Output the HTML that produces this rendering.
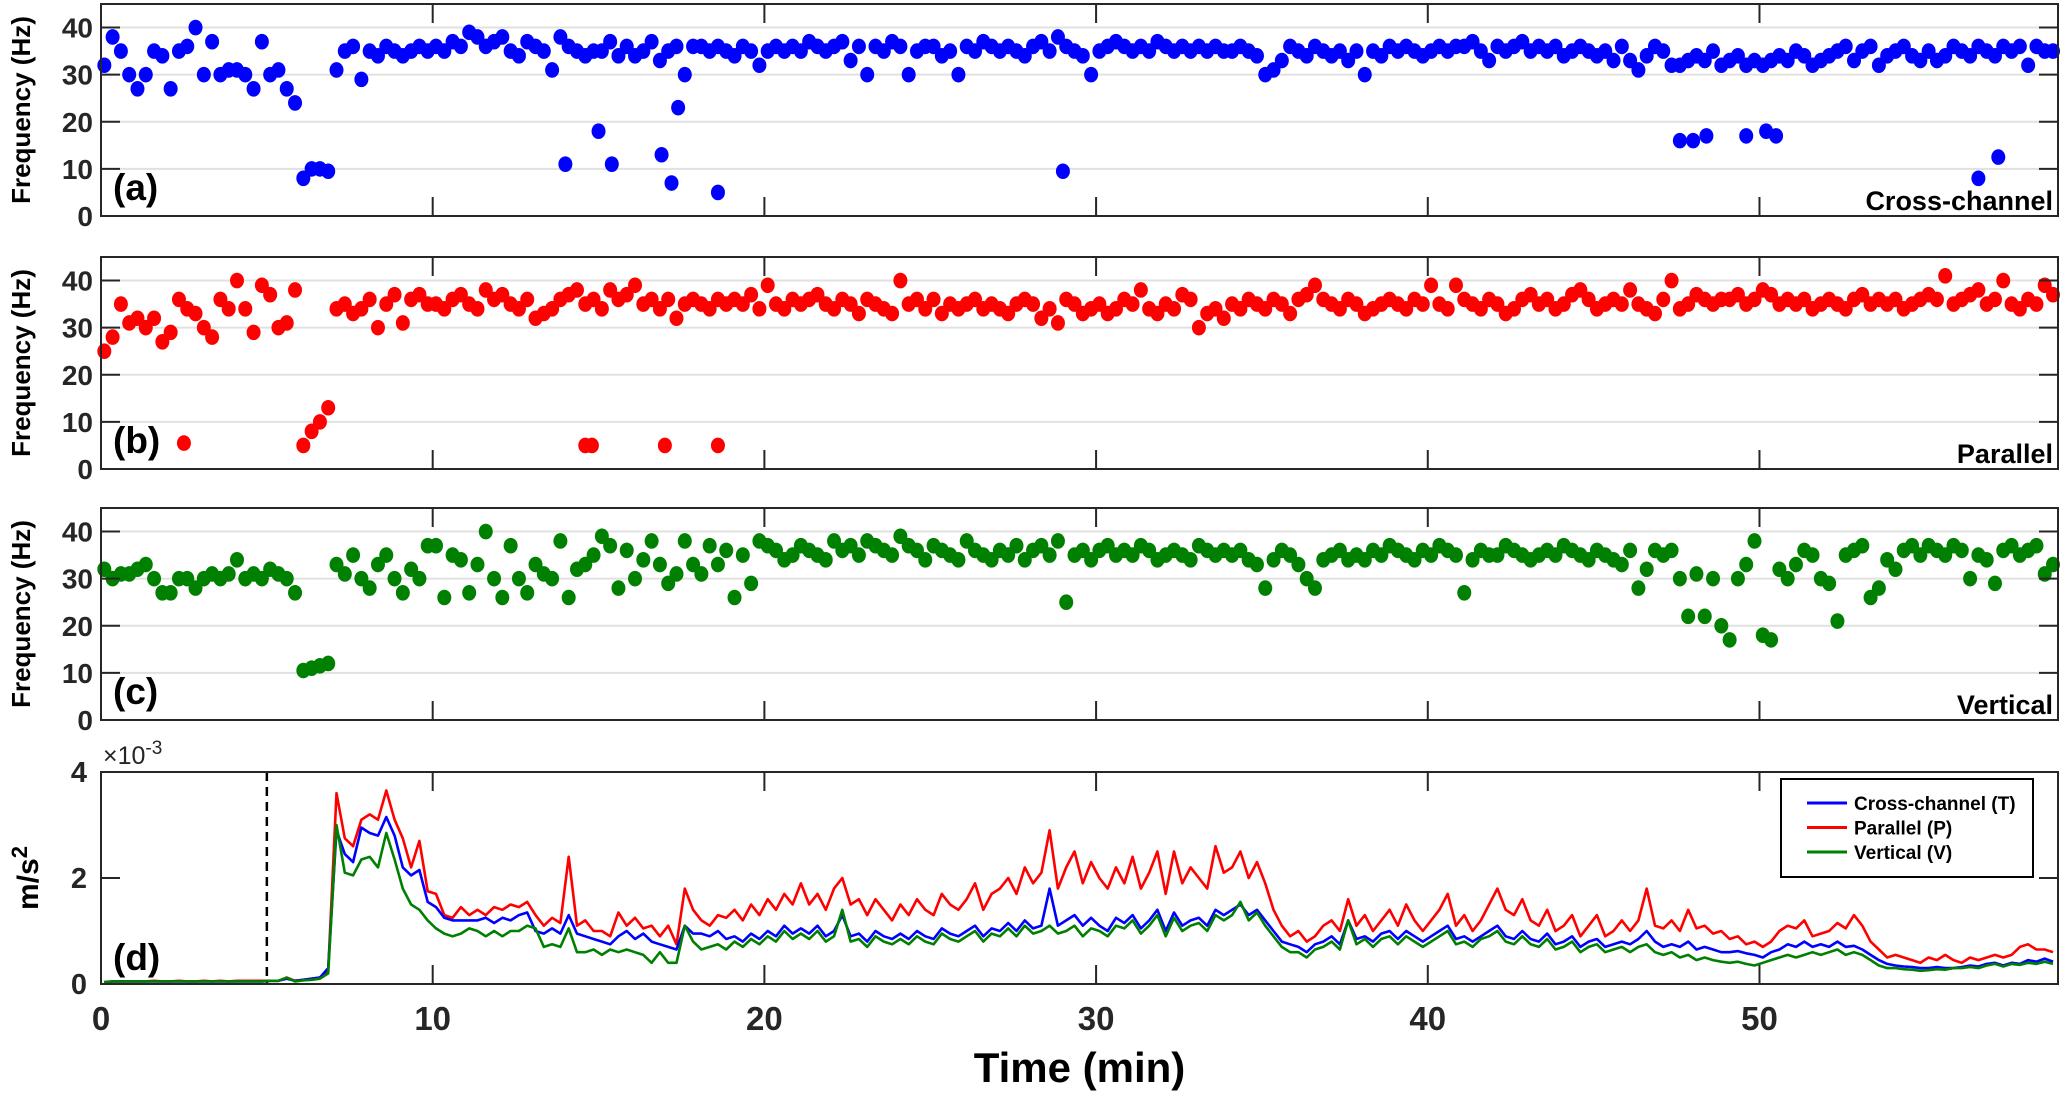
<!DOCTYPE html>
<html><head><meta charset="utf-8"><style>
html,body{margin:0;padding:0;background:#fff;}
svg{display:block;font-family:"Liberation Sans",Arial,sans-serif;font-weight:bold;}
</style></head><body>
<svg id="fig" width="2068" height="1097" viewBox="0 0 2068 1097" xmlns="http://www.w3.org/2000/svg"></svg>
<script>
// ---------- data ----------
const STEP = 0.25; // minutes between samples
const freqA = [32,38,35,30, 27,30,35,34, 27,35,36,40, 30,37,30,31, 31,30,27,37, 30,31,27,24, 8,10,10,9.5,
31,35,36,29, 35,34,36,35, 34,35,36,35, 36,35,37,36, 39,38,36,37, 38,35,34,37, 36,35,31,38, 36,35,34,35,
35,37,34,36, 34,35,37,33, 35,36,30,36, 36,35,36,35, 34,36,35,32, 35,36,35,36, 35,37,36,35, 36,37,33,36,
30,36,35,37, 36,30,35,36, 36,34,35,30, 36,35,37,36, 35,36,35,34, 36,37,35,38, 36,35,34,30, 35,36,37,36,
35,36,35,37, 36,35,36,35, 36,35,36,35, 35,36,35,34, 30,31,33,36, 35,34,36,35, 34,35,33,35, 30,35,34,36,
35,36,35,34, 35,36,35,36, 36,37,35,33, 36,35,36,37, 35,36,35,36, 34,35,36,35, 34,35,33,36, 33,31,34,36,
35,32,32,33, 34,33,35,32, 33,34,32,33, 32,33,34,33, 35,34,32,33, 34,35,36,33, 35,36,32,34, 35,36,34,33,
35,33,34,36, 35,34,36,35, 34,36,35,36, 32,36,35,35];
const outA_t = [14,15,15.4,16.9,17.2,17.4,18.6,29,47.6,48,48.4,49.6,50.2,50.5,56.6,57.2];
const outA_v = [11,18,11,13,7,23,5,9.5,16,16,17,17,18,17,8,12.5];

const freqB = [25,28,35,31, 32,30,32,27, 29,36,34,33, 30,28,36,34, 40,34,29,39, 37,30,31,38, 5,8,10,13,
34,35,33,34, 36,30,35,37, 31,36,37,35, 35,34,36,37, 35,34,38,36, 37,35,34,36, 32,33,34,36, 37,38,35,36,
34,38,36,37, 39,35,36,34, 36,32,35,36, 35,34,36,35, 36,35,37,34, 39,35,34,36, 35,36,37,35, 34,36,35,33,
36,35,34,33, 40,35,36,34, 36,33,35,34, 35,36,34,35, 34,33,35,36, 35,32,34,31, 36,35,33,34, 35,33,34,36,
35,38,34,33, 35,34,37,36, 30,33,34,32, 35,34,36,35, 34,36,35,33, 36,37,39,36, 35,34,36,35, 33,34,35,36,
35,34,36,35, 39,35,34,39, 36,35,34,36, 35,33,34,36, 37,35,36,34, 35,37,38,36, 34,35,36,35, 38,35,34,33,
36,40,34,35, 37,36,35,36, 36,37,35,36, 38,37,35,36, 35,36,34,35, 36,35,34,36, 37,35,36,35, 36,34,35,36,
37,36,41,35, 36,37,38,35, 36,40,35,34, 36,35,39,37];
const outB_t = [2.5,14.6,14.8,17,18.6];
const outB_v = [5.5,5,5,5,5];

const freqC = [32,30,31,31, 32,33,30,27, 27,30,30,28, 30,31,30,31, 34,30,31,30, 32,31,30,27, 10.5,11,11.5,12,
33,31,35,30, 28,33,35,30, 27,32,30,37, 37,26,35,34, 27,33,40,30, 26,37,30,27, 33,31,30,38, 26,32,33,35,
39,37,28,36, 30,34,38,33, 29,31,38,33, 31,37,33,36, 26,35,29,38, 37,36,34,35, 37,36,35,34, 38,36,37,35,
38,37,36,35, 39,37,36,34, 37,36,35,34, 38,36,35,34, 36,35,37,34, 36,37,35,38, 25,35,36,34, 36,37,35,36,
35,37,36,34, 35,36,35,34, 37,36,35,36, 35,36,34,33, 28,34,36,35, 33,30,28,34, 35,36,34,35, 34,36,35,37,
36,35,34,36, 35,37,36,35, 27,34,36,35, 35,37,36,35, 34,35,36,35, 37,36,35,34, 36,35,34,33, 36,28,32,36,
35,36,30,22, 31,22,30,20, 17,30,33,38, 18,17,32,30, 33,36,35,30, 29,21,35,36, 37,26,28,34, 32,36,37,35,
37,36,35,37, 36,30,35,34, 29,36,37,35, 36,37,31,33];

const accP = [.03,.05,.05,.05, .05,.05,.06,.05, .05,.06,.05,.05, .06,.05,.06,.05, .06,.06,.06,.06, .06,.06,.12,.06, .08,.1,.12,.25,
3.6,2.75,2.6,3.1, 3.2,3.1,3.65,3.1, 2.75,2.2,2.7,1.75, 1.7,1.3,1.25,1.45, 1.3,1.4,1.3,1.45, 1.4,1.5,1.45,1.55, 1.3,1.1,1.25,1.15, 2.4,1.1,1.2,1.0,
1.0,0.9,1.35,1.1, 1.25,1.05,1.1,0.9, 1.1,0.75,1.8,1.4, 1.2,1.1,1.3,1.25, 1.4,1.2,1.5,1.3, 1.6,1.4,1.7,1.5, 1.9,1.5,1.7,1.4, 1.8,2.0,1.5,1.6,
1.3,1.6,1.4,1.2, 1.5,1.3,1.6,1.4, 1.3,1.7,1.5,1.4, 1.6,1.9,1.4,1.7, 1.8,2.0,1.7,2.2, 1.9,2.1,2.9,1.8, 2.2,2.5,1.9,2.3, 2.0,1.8,2.2,1.9,
2.4,1.8,2.1,2.5, 1.7,2.5,1.9,2.2, 2.0,1.8,2.6,2.1, 2.2,2.5,2.0,2.3, 1.9,1.4,1.1,0.9, 1.0,0.8,0.9,1.1, 1.2,1.0,1.6,1.1, 1.3,1.0,1.2,1.4,
1.1,1.5,1.2,1.0, 1.2,1.4,1.7,1.1, 1.3,1.0,1.2,1.5, 1.8,1.4,1.3,1.6, 1.2,1.1,1.4,1.0, 1.1,1.3,0.9,1.1, 1.3,0.9,1.0,1.2, 1.0,1.2,1.8,1.1,
1.05,1.2,1.0,1.4, 1.05,1.1,0.95,1.0, 0.85,0.9,0.75,0.8, 0.7,0.8,1.0,1.1, 1.05,1.2,0.9,0.95, 1.0,1.15,1.05,1.3, 1.1,0.8,0.65,0.5, 0.55,0.5,0.45,0.4,
0.5,0.45,0.55,0.45, 0.4,0.5,0.45,0.5, 0.55,0.5,0.55,0.7, 0.75,0.65,0.65,0.6];
const accT = [.03,.05,.05,.05, .05,.05,.05,.05, .05,.05,.05,.05, .05,.05,.05,.05, .05,.05,.05,.05, .06,.06,.1,.06, .08,.1,.12,.3,
2.9,2.45,2.3,2.95, 2.85,2.8,3.15,2.8, 2.2,2.05,2.15,1.55, 1.45,1.25,1.2,1.2, 1.2,1.2,1.25,1.15, 1.25,1.2,1.3,1.35, 1.0,0.95,1.05,0.95, 1.3,0.95,0.9,0.85,
0.8,0.75,0.9,1.0, 0.85,0.95,0.8,0.75, 0.7,0.65,1.1,0.95, 0.95,0.9,1.0,0.85, 0.9,0.8,0.95,0.85, 1.0,0.9,1.1,0.95, 1.05,0.95,1.1,0.9, 1.0,1.3,0.9,0.95,
0.8,1.0,0.9,0.85, 0.95,0.85,1.0,0.9, 0.85,1.05,0.95,0.9, 1.0,1.1,0.9,1.05, 1.0,1.15,1.0,1.2, 1.05,1.1,1.8,1.1, 1.2,1.3,1.1,1.25, 1.1,1.0,1.25,1.15,
1.3,1.05,1.2,1.4, 1.0,1.35,1.1,1.2, 1.25,1.1,1.4,1.3, 1.4,1.5,1.3,1.4, 1.2,1.0,0.8,0.75, 0.7,0.6,0.75,0.8, 0.9,0.75,1.2,0.85, 0.9,0.8,0.95,1.0,
0.85,1.0,0.9,0.8, 0.9,1.0,1.1,0.85, 0.9,0.8,0.9,1.0, 1.1,0.9,0.85,1.0, 0.85,0.8,0.95,0.75, 0.8,0.9,0.7,0.8, 0.85,0.7,0.75,0.8, 0.75,0.85,1.0,0.8,
0.7,0.75,0.7,0.8, 0.65,0.7,0.65,0.6, 0.6,0.62,0.58,0.55, 0.5,0.6,0.65,0.75, 0.7,0.8,0.7,0.75, 0.7,0.8,0.7,0.72, 0.65,0.55,0.45,0.38, 0.35,0.33,0.32,0.3,
0.3,0.32,0.3,0.3, 0.32,0.35,0.33,0.38, 0.4,0.35,0.4,0.38, 0.45,0.42,0.48,0.42];
const accV = [.04,.05,.05,.05, .05,.05,.05,.05, .05,.05,.05,.05, .05,.05,.05,.05, .05,.05,.05,.05, .06,.06,.12,.05, .07,.08,.1,.2,
3.0,2.1,2.05,2.35, 2.4,2.2,2.85,2.35, 1.8,1.5,1.4,1.2, 1.05,0.95,0.9,0.95, 1.05,1.0,0.9,1.0, 0.9,1.0,1.0,1.1, 1.05,0.7,0.75,0.7, 1.05,0.6,0.6,0.65,
0.55,0.65,0.6,0.65, 0.6,0.55,0.4,0.6, 0.4,0.4,1.1,0.8, 0.65,0.7,0.75,0.65, 0.8,0.7,0.85,0.75, 0.9,0.8,1.0,0.85, 0.95,0.85,1.0,0.8, 0.9,1.4,0.8,0.85,
0.7,0.9,0.8,0.75, 0.85,0.75,0.9,0.8, 0.75,0.95,0.85,0.8, 0.9,1.0,0.8,0.95, 0.9,1.05,0.9,1.1, 0.95,1.0,1.1,0.95, 1.0,1.1,0.9,1.05, 1.0,0.9,1.1,1.05,
1.2,0.95,1.1,1.3, 0.9,1.25,1.0,1.1, 1.15,1.0,1.3,1.2, 1.3,1.55,1.2,1.35, 1.1,0.9,0.7,0.6, 0.6,0.5,0.65,0.7, 0.8,0.65,1.2,0.75, 0.85,0.7,0.85,0.9,
0.75,0.9,0.8,0.7, 0.8,0.9,1.0,0.75, 0.8,0.7,0.85,0.9, 1.0,0.8,0.75,0.9, 0.75,0.7,0.85,0.65, 0.7,0.8,0.6,0.7, 0.75,0.6,0.65,0.7, 0.6,0.7,0.75,0.6,
0.55,0.6,0.5,0.55, 0.45,0.5,0.45,0.42, 0.4,0.42,0.38,0.35, 0.4,0.45,0.5,0.55, 0.5,0.55,0.6,0.55, 0.6,0.65,0.55,0.6, 0.55,0.45,0.35,0.3, 0.3,0.28,0.27,0.25,
0.26,0.28,0.27,0.3, 0.3,0.32,0.3,0.35, 0.38,0.33,0.38,0.36, 0.4,0.38,0.42,0.38];

const xTicks = [0,10,20,30,40,50];
const fTicks = [0,10,20,30,40];
const aTicks = [0,2,4];

// ---------- layout ----------
const NS = "http://www.w3.org/2000/svg";
const svg = document.getElementById('fig');
const X0 = 101, X1 = 2058, XMAX = 59;
const xs = t => X0 + t / XMAX * (X1 - X0);
function el(tag, attrs, parent) {
  const e = document.createElementNS(NS, tag);
  for (const k in attrs) e.setAttribute(k, attrs[k]);
  (parent || svg).appendChild(e);
  return e;
}
function txt(s, attrs, parent) { const e = el('text', attrs, parent); e.textContent = s; return e; }

const panels = [
  {id:'a', top:4, bot:216, data:freqA, ot:outA_t, ov:outA_v, color:'#0000ff', label:'(a)', name:'Cross-channel'},
  {id:'b', top:257, bot:469, data:freqB, ot:outB_t, ov:outB_v, color:'#ff0000', label:'(b)', name:'Parallel'},
  {id:'c', top:508, bot:720, data:freqC, ot:[], ov:[], color:'#008000', label:'(c)', name:'Vertical'}
];

panels.forEach(p => {
  const ys = v => p.bot - v / 45 * (p.bot - p.top);
  const g = el('g', {});
  
  
  fTicks.forEach(v => {
    if (v > 0) {
      const gl = el('line', {x1:X0, x2:X1, y1:ys(v), y2:ys(v), stroke:'#e1e1e1', 'stroke-width':2}, g);
      
      
    }
  });
  const pts = el('g', {fill:p.color}, g);
  
  
  p.data.forEach((v, i) => {
    if (v == null) return;
    const c = el('ellipse', {cx:xs(i*STEP + 0.1), cy:ys(v), rx:7, ry:7.8}, pts);
    
    
  });
  p.ot.forEach((t, i) => {
    const c = el('ellipse', {cx:xs(t), cy:ys(p.ov[i]), rx:7, ry:7.8}, pts);
    
    
  });
  const box = el('rect', {x:X0, y:p.top, width:X1-X0, height:p.bot-p.top, fill:'none', stroke:'#262626', 'stroke-width':2}, g);
  
  
  xTicks.forEach(t => {
    if (t === 0) return;
    el('line', {x1:xs(t), x2:xs(t), y1:p.bot, y2:p.bot-19, stroke:'#262626', 'stroke-width':2}, g);
    el('line', {x1:xs(t), x2:xs(t), y1:p.top, y2:p.top+19, stroke:'#262626', 'stroke-width':2}, g);
  });
  fTicks.forEach(v => {
    el('line', {x1:X0, x2:X0+19, y1:ys(v), y2:ys(v), stroke:'#262626', 'stroke-width':2}, g);
    el('line', {x1:X1, x2:X1-19, y1:ys(v), y2:ys(v), stroke:'#262626', 'stroke-width':2}, g);
    const tl = txt(String(v), {x:X0-8, y:ys(v)+10, 'text-anchor':'end', 'font-size':28, fill:'#262626'}, g);
    
    
  });
  const yl = txt('Frequency (Hz)', {x:0, y:0, 'font-size':26, 'text-anchor':'middle', fill:'#000',
    transform:`translate(30,${(p.top+p.bot)/2}) rotate(-90)`}, g);
  
  
  const pl = txt(p.label, {x:X0+12, y:p.bot-16, 'font-size':37, fill:'#000'}, g);
  
  
  const nl = txt(p.name, {x:X1-5, y:p.bot-6, 'font-size':27, 'text-anchor':'end', fill:'#000'}, g);
  
  
});

// ---------- panel d ----------
const DT = 772, DB = 984;
const yd = v => DB - v / 4 * (DB - DT);
const gd = el('g', {});


const dash = el('line', {x1:xs(5), x2:xs(5), y1:DT, y2:DB, stroke:'#000', 'stroke-width':2.5, 'stroke-dasharray':'9,6'}, gd);


[[accP,'#ff0000','parallel-line'],[accT,'#0000ff','cross-channel-line'],[accV,'#008000','vertical-line']].forEach(s => {
  let d = '';
  s[0].forEach((v, i) => { d += (i ? 'L' : 'M') + xs(i*STEP + 0.1).toFixed(1) + ',' + yd(v).toFixed(1); });
  const pth = el('path', {d:d, fill:'none', stroke:s[1], 'stroke-width':2.6, 'stroke-linejoin':'round'}, gd);
  
  
});
const boxd = el('rect', {x:X0, y:DT, width:X1-X0, height:DB-DT, fill:'none', stroke:'#262626', 'stroke-width':2}, gd);


xTicks.forEach(t => {
  if (t > 0) {
    el('line', {x1:xs(t), x2:xs(t), y1:DB, y2:DB-19, stroke:'#262626', 'stroke-width':2}, gd);
    el('line', {x1:xs(t), x2:xs(t), y1:DT, y2:DT+19, stroke:'#262626', 'stroke-width':2}, gd);
  }
  const tl = txt(String(t), {x:xs(t), y:1030, 'text-anchor':'middle', 'font-size':33, fill:'#262626'}, gd);
  
  
});
aTicks.forEach(v => {
  el('line', {x1:X0, x2:X0+19, y1:yd(v), y2:yd(v), stroke:'#262626', 'stroke-width':2}, gd);
  el('line', {x1:X1, x2:X1-19, y1:yd(v), y2:yd(v), stroke:'#262626', 'stroke-width':2}, gd);
  const tl = txt(String(v), {x:X0-14, y:yd(v)+10, 'text-anchor':'end', 'font-size':29, fill:'#262626'}, gd);
  
  
});
const mult = txt('', {x:X0+2, y:764, 'font-size':25, fill:'#262626', 'font-weight':'normal'}, gd);
mult.innerHTML = '×10<tspan dy="-10" font-size="19">-3</tspan>';


const ydl = txt('', {x:0, y:0, 'font-size':30, 'text-anchor':'middle', fill:'#000', transform:`translate(38,${(DT+DB)/2}) rotate(-90)`}, gd);
ydl.innerHTML = 'm/s<tspan dy="-11" font-size="22">2</tspan>';


const dl = txt('(d)', {x:X0+12, y:DB-14, 'font-size':37, fill:'#000'}, gd);


const xt = txt('Time (min)', {x:(X0+X1)/2, y:1082, 'text-anchor':'middle', 'font-size':42, fill:'#000'});



// legend
const lg = el('g', {});


el('rect', {x:1781, y:779, width:252, height:98, fill:'#fff', stroke:'#000', 'stroke-width':2}, lg);
const legItems = ['Cross-channel (T)','Parallel (P)','Vertical (V)'];
const legColors = ['#0000ff','#ff0000','#008000'];
legItems.forEach((s, i) => {
  const y = 803 + i*24.5;
  const le = el('g', {}, lg);
  
  
  el('line', {x1:1807, x2:1847, y1:y, y2:y, stroke:legColors[i], 'stroke-width':3}, le);
  txt(s, {x:1854, y:y+7, 'font-size':19, fill:'#000'}, le);
});
</script>
</body></html>
